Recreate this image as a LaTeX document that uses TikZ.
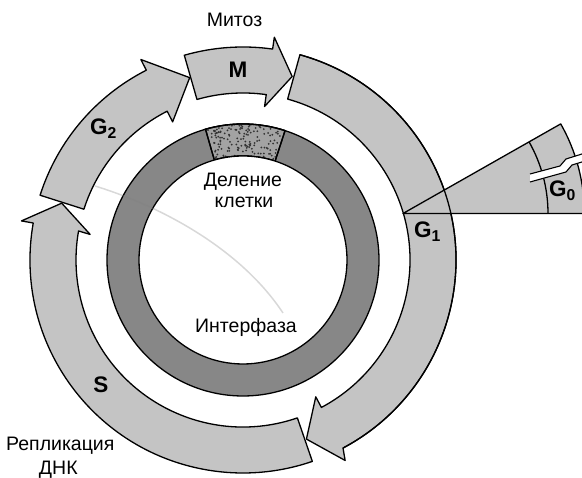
\documentclass[tikz,border=0pt]{standalone}
\usepackage{fontspec}
\setmainfont{Liberation Sans}
\usetikzlibrary{calc,positioning,patterns}

\definecolor{ArrowGray}{gray}{0.77}
\definecolor{RingGray}{gray}{0.53}
\definecolor{DotGray}{gray}{0.64}

\begin{document}
\begin{tikzpicture}[x=1pt,y=1pt,
        ArrowCfg/.style={
            draw,
            fill=ArrowGray,
            line width=1.3pt,
            line join=round
        },
        RingCfg/.style={draw,fill=RingGray,line width=1.3pt},
        DotCfg/.style={draw,fill=DotGray,line width=1.3pt},
        TextCfg/.style={inner sep=0pt,font=\fontsize{19.5}{22}\selectfont},
        PhaseCfg/.style={inner sep=0pt,font=\fontsize{22.5}{24}\selectfont\bfseries}
    ]
    \useasboundingbox (0,0) rectangle (582,478);
    \coordinate (O) at (243,218);
    
    % inner ring
    \begin{scope}[shift={(O)}]
    \draw[RingCfg] (0,0) circle[radius=136];
    \draw[DotCfg] (106:136) arc[start angle=106,end angle=72,radius=136]--(72:104) arc[start angle=72,end angle=106,radius=104]--cycle;
    \begin{scope}
    \clip (106:136) arc[start angle=106,end angle=72,radius=136]--(72:104) arc[start angle=72,end angle=106,radius=104]--cycle;
    \pgfmathsetseed{17}
    \foreach \i in {1,...,150}
        \fill[black!80] ({72+34*rnd}:{104+32*rnd}) circle[radius=1];
    \end{scope}
    \draw[line width=1.3pt] (106:136) arc[start angle=106,end angle=72,radius=136]--(72:104) arc[start angle=72,end angle=106,radius=104]--cycle;
    \draw[line width=1.3pt,fill=white] (0,0) circle[radius=104];
    \end{scope}
    
    % cycle arrows
    \begin{scope}[shift={(O)}]
    % M
    \draw[ArrowCfg] (106:167) arc[start angle=106,end angle=82,radius=167]--(82:155)--(75:190)--(82:225)--(82:213) arc[start angle=82,end angle=106,radius=213]--cycle;
    % G1
    \draw[ArrowCfg] (74.5:167) arc[start angle=74.5,end angle=-62,radius=167]--(-62:155)--(-70.5:190)--(-63:225)--(-62:213) arc[start angle=-62,end angle=74.5,radius=213]--cycle;
    % S
    \draw[ArrowCfg] (-71:167) arc[start angle=289,end angle=170,radius=167]--(170.5:155)--(162.6:190)--(170:225)--(170:213) arc[start angle=170,end angle=289,radius=213]--cycle;
    % G2
    \draw[ArrowCfg] (162.3:167) arc[start angle=162.3,end angle=117,radius=167]--(117:155)--(106.3:190)--(117:225)--(117:213) arc[start angle=117,end angle=162.3,radius=213]--cycle;
    \end{scope}
    
    % G0 wedge
    \coordinate (W) at (403,264.5);
    \draw[ArrowCfg] (W)--++(29.6:181.4)coordinate (T) arc[start angle=29.6,end angle=0,radius=181.4]--cycle;
    \draw[line width=1.3pt] ($(W)+(29.6:145)$) arc[start angle=29.6,end angle=0,radius=145];
    \draw[line width=1.3pt] ($(O)+(74.5:213)$) arc[start angle=74.5,end angle=-62,radius=213];
    % break
    \fill[white] (530,304)--(560,312)--(566,319)--(582,324)--(582,316)--(572,313)--(566,306)--(530,296)--cycle;
    \draw[line width=1.1pt] (530,304)--(560,312)--(566,319)--(582,324);
    \draw[line width=1.1pt] (530,296)--(566,306)--(572,313)--(582,316);
    
    % scratch
    \draw[gray,opacity=0.3,line width=1.5pt] (95,292) .. controls (160,272) and (240,230) .. (283,165);
    
    % labels
    \node[TextCfg,anchor=base] (Mitoz) at (234.5,451.5) {Митоз};
    \node[PhaseCfg,anchor=base] (M) at (238,400) {M};
    \node[PhaseCfg,anchor=base west] (G2) at (90,343) {G\textsubscript{2}};
    \node[PhaseCfg,anchor=base west] (G1) at (414,240) {G\textsubscript{1}};
    \node[PhaseCfg,anchor=base west] (G0) at (549,281) {G\textsubscript{0}};
    \node[PhaseCfg,anchor=base] (S) at (101,85) {S};
    \node[TextCfg,anchor=base] (Delenie) at (243,291.3) {Деление};
    \node[TextCfg,anchor=base] (Kletki) at (244,270.7) {клетки};
    \node[TextCfg,anchor=base] (Interfaza) at (246,145) {Интерфаза};
    \node[TextCfg,anchor=base] (Replik) at (60.3,27) {Репликация};
    \node[TextCfg,anchor=base] (DNK) at (58.3,3) {ДНК};
    
\end{tikzpicture}
\end{document}
